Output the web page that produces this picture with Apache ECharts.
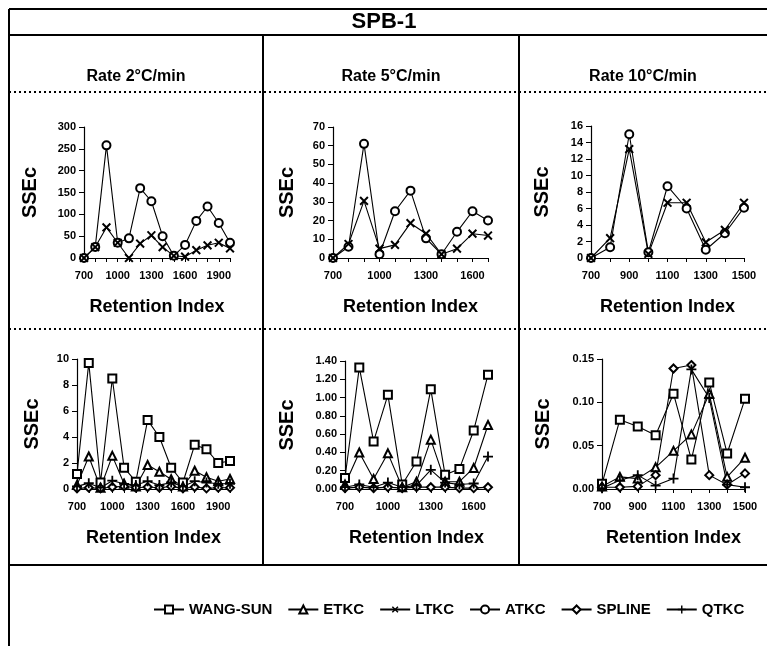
<!DOCTYPE html>
<html>
<head>
<meta charset="utf-8">
<script src="https://cdn.jsdelivr.net/npm/echarts@6/dist/echarts.min.js"></script>
<style>
  html, body { margin: 0; padding: 0; background: #fff; }
  #chart { width: 767px; height: 646px; }
</style>
</head>
<body>
<div id="chart"></div>
<script>
// Retention index grids for each heating rate
const ri2 = ['700','800','900','1000','1100','1200','1300','1400','1500','1600','1700','1800','1900','2000'];
const ri5 = ['700','800','900','1000','1100','1200','1300','1400','1500','1600','1700'];
const ri10 = ['700','800','900','1000','1100','1200','1300','1400','1500'];

// Upper row: large-error methods
const atkc2 = [0, 25, 258, 35, 45, 160, 130, 50, 5, 30, 85, 118, 80, 35];
const ltkc2 = [0, 25, 70, 35, 0, 33, 52, 25, 5, 3, 18, 29, 35, 22];
const atkc5 = [0, 6, 61, 2, 25, 36, 10.5, 2, 14, 25, 20];
const ltkc5 = [0, 7.5, 30.5, 5, 7, 18.6, 13, 2, 5, 13, 12];
const atkc10 = [0, 1.3, 15, 0.7, 8.7, 6, 1, 3, 6.1];
const ltkc10 = [0, 2.4, 13.2, 0.5, 6.7, 6.7, 1.9, 3.4, 6.7];

// Lower row: small-error methods
const wang2 = [1.15, 9.7, 0.5, 8.5, 1.64, 0.56, 5.3, 4.0, 1.64, 0.5, 3.4, 3.05, 2.0, 2.15];
const etkc2 = [0.3, 2.5, 0.1, 2.55, 0.4, 0.2, 1.85, 1.33, 0.75, 0.2, 1.4, 0.9, 0.6, 0.77];
const qtkc2 = [0.2, 0.45, 0.1, 0.64, 0.4, 0.3, 0.6, 0.3, 0.5, 0.2, 0.6, 0.5, 0.4, 0.4];
const spline2 = [0.05, 0.1, 0.05, 0.15, 0.2, 0.1, 0.15, 0.1, 0.2, 0.05, 0.15, 0.05, 0.1, 0.1];

const wang5 = [0.12, 1.33, 0.52, 1.03, 0.05, 0.30, 1.09, 0.155, 0.22, 0.64, 1.25];
const etkc5 = [0.05, 0.40, 0.11, 0.39, 0.02, 0.08, 0.54, 0.08, 0.08, 0.23, 0.70];
const qtkc5 = [0.02, 0.05, 0.02, 0.07, 0.02, 0.04, 0.21, 0.07, 0.05, 0.06, 0.355];
const spline5 = [0.01, 0.02, 0.01, 0.02, 0.01, 0.02, 0.02, 0.02, 0.01, 0.01, 0.02];

const wang10 = [0.006, 0.080, 0.072, 0.062, 0.110, 0.034, 0.123, 0.041, 0.104];
const etkc10 = [0.003, 0.014, 0.012, 0.025, 0.044, 0.063, 0.110, 0.014, 0.036];
const qtkc10 = [0.001, 0.010, 0.016, 0.004, 0.012, 0.138, 0.105, 0.005, 0.002];
const spline10 = [0.002, 0.002, 0.003, 0.016, 0.139, 0.143, 0.016, 0.005, 0.018];

// Y-axis ranges: [min, max, interval, decimals]
const yRanges = [
  [0, 300, 50, 0], [0, 70, 10, 0], [0, 16, 2, 0],
  [0, 10, 2, 0], [0, 1.4, 0.2, 2], [0, 0.15, 0.05, 2]
];
const xCats = [ri2, ri5, ri10, ri2, ri5, ri10];
const xLabelEvery = [2, 2, 1, 2, 2, 1];

const titleText = 'SPB-1';
const rateLabels = ['Rate 2°C/min', 'Rate 5°C/min', 'Rate 10°C/min'];
const legendNames = ['WANG-SUN', 'ETKC', 'LTKC', 'ATKC', 'SPLINE', 'QTKC'];

const FONT = '"Liberation Sans", Arial, sans-serif';
// plus sign; rotated 45 degrees it becomes the cross marker
const PLUS = 'path://M4.1,0H5.9V4.1H10V5.9H5.9V10H4.1V5.9H0V4.1H4.1Z';

const markers = {
  'WANG-SUN': { symbol: 'emptyRect', size: 8, rotate: 0, bw: 1.4 },
  'ETKC': { symbol: 'emptyTriangle', size: 8, rotate: 0, bw: 1.4 },
  'LTKC': { symbol: PLUS, size: 11, rotate: 45, bw: 0 },
  'ATKC': { symbol: 'emptyCircle', size: 8, rotate: 0, bw: 1.4 },
  'SPLINE': { symbol: 'emptyDiamond', size: 8, rotate: 0, bw: 1.4 },
  'QTKC': { symbol: PLUS, size: 10, rotate: 0, bw: 0 }
};

const grids = [
  { left: 84, top: 127, width: 146, height: 131 },
  { left: 333, top: 127, width: 155, height: 131 },
  { left: 591, top: 126, width: 153, height: 132 },
  { left: 77, top: 359, width: 153, height: 130 },
  { left: 345, top: 361, width: 143, height: 128 },
  { left: 602, top: 359, width: 143, height: 130 }
];
const yNameGaps = [44, 36, 39, 35, 48, 49];

function mkSeries(name, idx, data) {
  const m = markers[name];
  return {
    name: name, type: 'line', xAxisIndex: idx, yAxisIndex: idx, data: data,
    symbol: m.symbol, symbolSize: m.size, symbolRotate: m.rotate,
    showAllSymbol: true,
    lineStyle: { color: '#000', width: 1.1 },
    itemStyle: { color: '#000', borderColor: '#000', borderWidth: m.bw },
    emphasis: { disabled: true },
    animation: false
  };
}

const series = [
  mkSeries('ATKC', 0, atkc2), mkSeries('LTKC', 0, ltkc2),
  mkSeries('ATKC', 1, atkc5), mkSeries('LTKC', 1, ltkc5),
  mkSeries('ATKC', 2, atkc10), mkSeries('LTKC', 2, ltkc10),
  mkSeries('WANG-SUN', 3, wang2), mkSeries('ETKC', 3, etkc2), mkSeries('SPLINE', 3, spline2), mkSeries('QTKC', 3, qtkc2),
  mkSeries('WANG-SUN', 4, wang5), mkSeries('ETKC', 4, etkc5), mkSeries('SPLINE', 4, spline5), mkSeries('QTKC', 4, qtkc5),
  mkSeries('WANG-SUN', 5, wang10), mkSeries('ETKC', 5, etkc10), mkSeries('SPLINE', 5, spline10), mkSeries('QTKC', 5, qtkc10)
];

const xAxes = xCats.map((cats, i) => ({
  type: 'category', gridIndex: i, data: cats, boundaryGap: false,
  name: 'Retention Index', nameLocation: 'middle', nameGap: 40,
  nameTextStyle: { fontFamily: FONT, fontWeight: 'bold', fontSize: 18, color: '#000' },
  axisLine: { lineStyle: { color: '#000', width: 1.2 } },
  axisTick: { interval: 0, length: 4, lineStyle: { color: '#000' } },
  axisLabel: { interval: xLabelEvery[i], margin: 12, fontFamily: FONT, fontWeight: 'bold', fontSize: 11, color: '#000' },
  splitLine: { show: false }
}));

const yAxes = yRanges.map((r, i) => ({
  type: 'value', gridIndex: i, min: r[0], max: r[1], interval: r[2],
  name: 'SSEc', nameLocation: 'middle', nameGap: yNameGaps[i], nameRotate: 90,
  nameTextStyle: { fontFamily: FONT, fontWeight: 'bold', fontSize: 20, color: '#000' },
  axisLine: { show: true, lineStyle: { color: '#000', width: 1.2 } },
  axisTick: { show: true, length: 5, lineStyle: { color: '#000' } },
  axisLabel: {
    margin: 8, fontFamily: FONT, fontWeight: 'bold', fontSize: 11, color: '#000',
    formatter: v => v.toFixed(r[3])
  },
  splitLine: { show: false }
}));

// Table frame: borders, column dividers and dotted row separators
const frame = [];
function hline(y, x1, x2, dotted) {
  frame.push({ type: 'line', shape: { x1: x1, y1: y, x2: x2, y2: y },
    style: { stroke: '#000', lineWidth: 2, lineDash: dotted ? [2, 3] : null } });
}
function vline(x, y1, y2) {
  frame.push({ type: 'line', shape: { x1: x, y1: y1, x2: x, y2: y2 },
    style: { stroke: '#000', lineWidth: 2 } });
}
hline(9, 9, 767, false);
hline(35, 9, 767, false);
hline(92, 9, 767, true);
hline(329, 9, 767, true);
hline(565, 9, 767, false);
vline(9, 9, 646);
vline(263, 35, 565);
vline(519, 35, 565);

const colCenters = [136, 391, 643];
const texts = [
  { type: 'text', x: 384, y: 22, style: { text: titleText, font: 'bold 22px ' + FONT, fill: '#000', textAlign: 'center', textVerticalAlign: 'middle' } }
];
rateLabels.forEach((t, i) => texts.push({
  type: 'text', x: colCenters[i], y: 77,
  style: { text: t, font: 'bold 16px ' + FONT, fill: '#000', textAlign: 'center', textVerticalAlign: 'middle' }
}));

const chart = echarts.init(document.getElementById('chart'), null, { renderer: 'canvas' });
chart.setOption({
  animation: false,
  backgroundColor: '#fff',
  grid: grids,
  xAxis: xAxes,
  yAxis: yAxes,
  legend: {
    data: legendNames, left: 148, top: 597, itemWidth: 30, itemHeight: 10, itemGap: 15,
    selectedMode: false,
    textStyle: { fontFamily: FONT, fontWeight: 'bold', fontSize: 15, color: '#000' }
  },
  graphic: frame.concat(texts),
  series: series
});
</script>
</body>
</html>
